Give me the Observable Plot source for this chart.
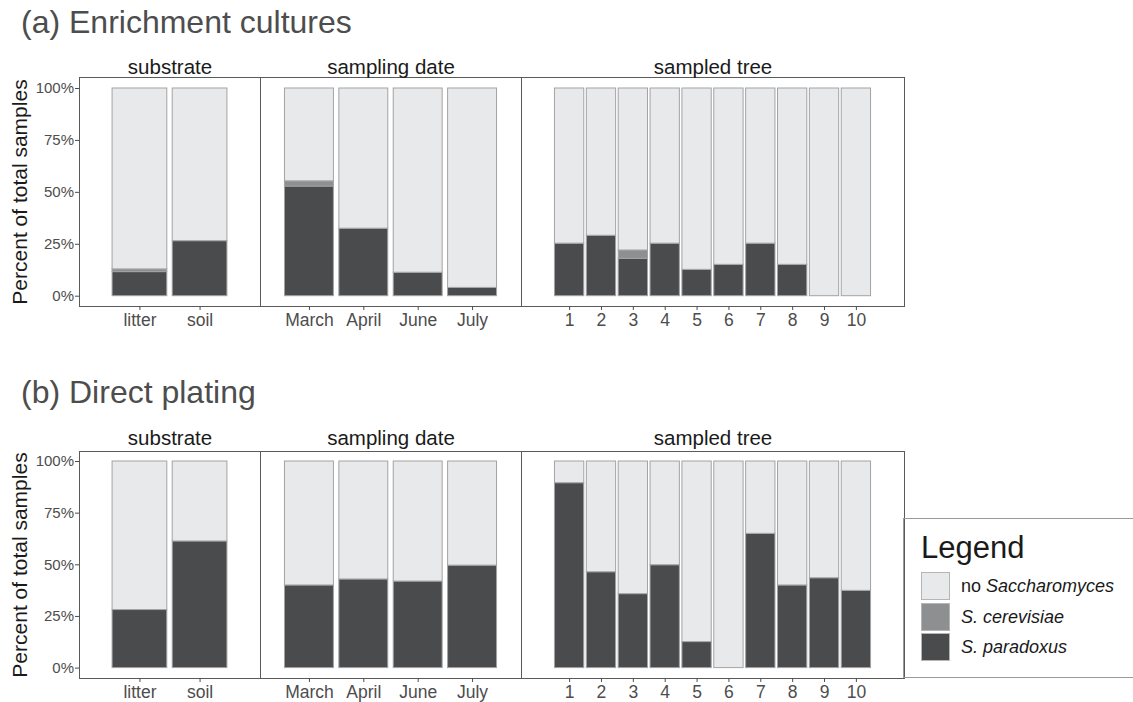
<!DOCTYPE html>
<html>
<head>
<meta charset="utf-8">
<script src="https://cdn.jsdelivr.net/npm/d3@7"></script>
<script src="https://cdn.jsdelivr.net/npm/@observablehq/plot@0.6"></script>
<style>
  html, body { margin: 0; padding: 0; background: #fff; }
  #root { position: relative; width: 1133px; height: 702px; overflow: hidden; background: #fff;
          font-family: "Liberation Sans", Arial, Helvetica, sans-serif; }
  .title { position: absolute; font-size: 32px; line-height: 1; color: #4d4d4d; white-space: nowrap; }
  .legend { position: absolute; left: 903px; top: 518px; width: 240px; height: 160px;
            border: 1px solid #9a9a9a; border-right: none; box-sizing: border-box; }
  .legend .lt { position: absolute; left: 17px; top: 13px; font-size: 31px; line-height: 1; color: #1a1a1a; }
  .legend .key { position: absolute; left: 17px; width: 29px; height: 28px; box-sizing: border-box; border: 1px solid #b5b5b5; }
  .legend .kl { position: absolute; left: 57px; font-size: 18px; line-height: 28px; color: #1a1a1a; white-space: nowrap; }
  svg { position: absolute; }
</style>
</head>
<body>
<div id="root"></div>
<script>
// ---------- data ----------
const speciesLabels = ["S. paradoxus", "S. cerevisiae", "no Saccharomyces"];
const speciesColors = ["#4a4b4d", "#8e8f91", "#e8e9eb"];

const substrateCats = ["litter", "soil"];
const dateCats = ["March", "April", "June", "July"];
const treeCats = ["1", "2", "3", "4", "5", "6", "7", "8", "9", "10"];

const stripLabels = ["substrate", "sampling date", "sampled tree"];
const panelTitles = ["(a) Enrichment cultures", "(b) Direct plating"];
const yTicks = [0, 25, 50, 75, 100];
const yTitle = "Percent of total samples";

// (a) Enrichment cultures — percent of samples
const enrichSubstrateParadoxus = [11.6, 26.5];
const enrichSubstrateCerevisiae = [1.3, 0];
const enrichSubstrateNone = [87.1, 73.5];

const enrichDateParadoxus = [52.8, 32.5, 11.3, 4.0];
const enrichDateCerevisiae = [2.5, 0, 0, 0];
const enrichDateNone = [44.7, 67.5, 88.7, 96.0];

const enrichTreeParadoxus = [25.3, 29.1, 18.0, 25.3, 12.7, 15.1, 25.3, 15.1, 0, 0];
const enrichTreeCerevisiae = [0, 0, 4.0, 0, 0, 0, 0, 0, 0, 0];
const enrichTreeNone = [74.7, 70.9, 78.0, 74.7, 87.3, 84.9, 74.7, 84.9, 100, 100];

// (b) Direct plating — percent of samples
const directSubstrateParadoxus = [28.1, 61.3];
const directSubstrateCerevisiae = [0, 0];
const directSubstrateNone = [71.9, 38.7];

const directDateParadoxus = [40.0, 42.9, 41.9, 49.6];
const directDateCerevisiae = [0, 0, 0, 0];
const directDateNone = [60.0, 57.1, 58.1, 50.4];

const directTreeParadoxus = [89.5, 46.4, 35.8, 49.8, 12.6, 0, 65.0, 40.0, 43.5, 37.4];
const directTreeCerevisiae = [0, 0, 0, 0, 0, 0, 0, 0, 0, 0];
const directTreeNone = [10.5, 53.6, 64.2, 50.2, 87.4, 100, 35.0, 60.0, 56.5, 62.6];

// ---------- drawing ----------
const FONT = '"Liberation Sans", Arial, Helvetica, sans-serif';
const root = document.getElementById("root");

function rowsOf(cats, par, cer, none) {
  return cats.flatMap((c, i) => [
    {cat: c, sp: speciesLabels[0], v: par[i]},
    {cat: c, sp: speciesLabels[1], v: cer[i]},
    {cat: c, sp: speciesLabels[2], v: none[i]}
  ]).filter(d => d.v > 0);
}

function panel(o) {
  const mL = o.showY ? o.frameLeft : 2;
  const mR = 2;
  const left = o.showY ? 0 : o.frameLeft - 2;
  const svg = Plot.plot({
    width: mL + o.frameWidth + mR,
    height: o.mTop + o.frameH + o.mBottom,
    marginLeft: mL, marginRight: mR, marginTop: o.mTop, marginBottom: o.mBottom,
    style: {fontFamily: FONT, background: "transparent", overflow: "visible"},
    x: {domain: o.cats, paddingInner: o.pi, paddingOuter: o.po, round: false, label: null},
    y: {domain: [0, 100], insetTop: o.insetTop, insetBottom: o.insetBottom, label: null, axis: o.showY ? undefined : null},
    color: {domain: speciesLabels, range: speciesColors},
    marks: [
      Plot.barY(rowsOf(o.cats, o.par, o.cer, o.none), {x: "cat", y: "v", fill: "sp", stroke: "#a3a3a3", strokeWidth: 1, insetLeft: 0, insetRight: 0}),
      Plot.frame({stroke: "#5a5a5a", strokeWidth: 1}),
      Plot.axisX({tickSize: 4, tickPadding: 3, fontSize: 17.5, color: "#4d4d4d", label: null}),
      o.showY ? Plot.axisY({ticks: yTicks, tickFormat: d => d + "%", tickSize: 4, tickPadding: 1.5, fontSize: 15, color: "#4d4d4d", label: null}) : null,
      Plot.text([o.strip], {frameAnchor: "top", lineAnchor: "middle", dy: o.stripDy, fontSize: 20.5, fill: "#1a1a1a", text: d => d}),
      o.showY ? Plot.text([yTitle], {frameAnchor: "left", textAnchor: "middle", lineAnchor: "middle", rotate: -90, dx: -59.5, fontSize: 21, fill: "#1a1a1a", text: d => d}) : null
    ]
  });
  svg.style.left = left + "px";
  svg.style.top = o.top + "px";
  root.appendChild(svg);
}

const rowA = {top: 47, mTop: 30, frameH: 229, mBottom: 40, insetTop: 11, insetBottom: 10.3, stripDy: -10.3};
const rowB = {top: 420, mTop: 31, frameH: 227, mBottom: 40, insetTop: 10, insetBottom: 10.4, stripDy: -13};
const cols = [
  {frameLeft: 79, frameWidth: 181, po: 0.55, pi: 0.09, showY: true, cats: substrateCats, strip: stripLabels[0]},
  {frameLeft: 260, frameWidth: 261, po: 0.45, pi: 0.1, showY: false, cats: dateCats, strip: stripLabels[1]},
  {frameLeft: 521, frameWidth: 383, po: 1.05, pi: 0.08, showY: false, cats: treeCats, strip: stripLabels[2]}
];

const enrichData = [
  [enrichSubstrateParadoxus, enrichSubstrateCerevisiae, enrichSubstrateNone],
  [enrichDateParadoxus, enrichDateCerevisiae, enrichDateNone],
  [enrichTreeParadoxus, enrichTreeCerevisiae, enrichTreeNone]
];
const directData = [
  [directSubstrateParadoxus, directSubstrateCerevisiae, directSubstrateNone],
  [directDateParadoxus, directDateCerevisiae, directDateNone],
  [directTreeParadoxus, directTreeCerevisiae, directTreeNone]
];

cols.forEach((c, i) => {
  panel({...rowA, ...c, par: enrichData[i][0], cer: enrichData[i][1], none: enrichData[i][2]});
  panel({...rowB, ...c, par: directData[i][0], cer: directData[i][1], none: directData[i][2]});
});

// titles
[[panelTitles[0], 6], [panelTitles[1], 376]].forEach(([t, y]) => {
  const d = document.createElement("div");
  d.className = "title";
  d.style.left = "21px";
  d.style.top = y + "px";
  d.textContent = t;
  root.appendChild(d);
});

// legend
const lg = document.createElement("div");
lg.className = "legend";
lg.innerHTML = `<div class="lt">Legend</div>` +
  [
    ['no <i>Saccharomyces</i>', speciesColors[2], 53],
    ['<i>S. cerevisiae</i>', speciesColors[1], 84],
    ['<i>S. paradoxus</i>', speciesColors[0], 114]
  ].map(([lab, col, y]) =>
    `<div class="key" style="top:${y}px;background:${col}"></div><div class="kl" style="top:${y}px">${lab}</div>`
  ).join("");
root.appendChild(lg);
</script>
</body>
</html>
